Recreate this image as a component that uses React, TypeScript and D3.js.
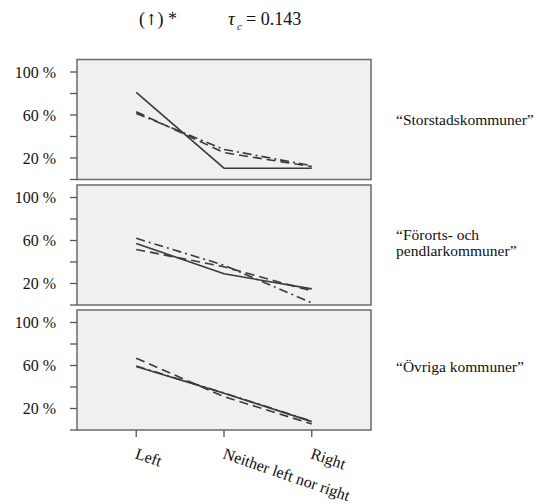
import React from "react";
import * as d3 from "d3";

const categories = ["Left", "Neither left nor right", "Right"];
const panelLabels = [["“Storstadskommuner”"], ["“Förorts- och", "pendlarkommuner”"], ["“Övriga kommuner”"]];
const yTicks = [0, 0.2, 0.4, 0.6, 0.8, 1.0];
const yTickLabels = ["", "20 %", "", "60 %", "", "100 %"];

const storSolid = [0.81, 0.105, 0.105];
const storDashed = [0.63, 0.25, 0.12];
const storDashDot = [0.615, 0.28, 0.128];
const forSolid = [0.573, 0.29, 0.15];
const forDashed = [0.517, 0.355, 0.13];
const forDashDot = [0.62, 0.37, 0.02];
const ovrSolid = [0.59, 0.342, 0.078];
const ovrDashed = [0.668, 0.31, 0.056];
const ovrDashDot = [0.595, 0.345, 0.082];

const panelSeries = [
  [storSolid, storDashed, storDashDot],
  [forSolid, forDashed, forDashDot],
  [ovrSolid, ovrDashed, ovrDashDot],
];
const dashes = ["none", "9,5", "9,4,2,4"];

const FONT = "'Liberation Serif', 'Times New Roman', 'DejaVu Serif', serif";

export default function App() {
  const left = 77, right = 371;
  const panelH = 120;
  const bottoms = [179.5, 305, 430];
  const x = d3.scalePoint<string>().domain(categories).range([left, right]).padding(0.675);
  const line = (y: d3.ScaleLinear<number, number>) =>
    d3.line<number>().x((_, i) => x(categories[i]) as number).y((v) => y(v));
  const ts = { fontFamily: FONT, fill: "#111" } as React.CSSProperties;

  return (
    <svg width={554} height={504} style={{ position: "absolute", left: 0, top: 0, background: "#fff" }}>
      <text x={139} y={25} style={{ ...ts, fontSize: 18 }}>
        (<tspan style={{ fontFamily: "'DejaVu Serif', serif", fontSize: 15 }}>↑</tspan>) *
      </text>
      <text x={228} y={25} style={{ ...ts, fontSize: 19, fontStyle: "italic" }}>τ</text>
      <text x={237} y={29.5} style={{ ...ts, fontSize: 11, fontStyle: "italic" }}>c</text>
      <text x={246} y={25} style={{ ...ts, fontSize: 18 }}>= 0.143</text>
      {bottoms.map((b, pi) => {
        const y = d3.scaleLinear().domain([0, panelH / 107.5]).range([b, b - panelH]);
        const ln = line(y);
        return (
          <g key={pi}>
            <rect x={left} y={b - panelH} width={right - left} height={panelH} fill="#f0f0f0" stroke="#6a6a6a" strokeWidth={1.5} />
            {yTicks.map((t, i) => (
              <g key={i}>
                <line x1={left - 7} x2={left} y1={y(t)} y2={y(t)} stroke="#555" strokeWidth={1.3} />
                {yTickLabels[i] && (
                  <text x={56} y={y(t)} dy="0.35em" textAnchor="end" style={{ ...ts, fontSize: 16 }}>
                    {yTickLabels[i]}
                  </text>
                )}
              </g>
            ))}
            {panelSeries[pi].map((s, si) => (
              <path key={si} d={ln(s) || ""} fill="none" stroke="#3a3a3a" strokeWidth={1.6} strokeDasharray={dashes[si]} />
            ))}
            {panelLabels[pi].map((t, li) => (
              <text key={li} x={396} y={[125, 240, 371.7][pi] + li * 15.7} style={{ ...ts, fontSize: 15.5 }}>
                {t}
              </text>
            ))}
          </g>
        );
      })}
      {categories.map((c) => (
        <g key={c} transform={`translate(${x(c)},0)`}>
          <line y1={430} y2={437} stroke="#555" strokeWidth={1.3} />
          <text transform={`translate(-2,458) rotate(19)`} style={{ ...ts, fontSize: 16 }}>
            {c}
          </text>
        </g>
      ))}
    </svg>
  );
}
